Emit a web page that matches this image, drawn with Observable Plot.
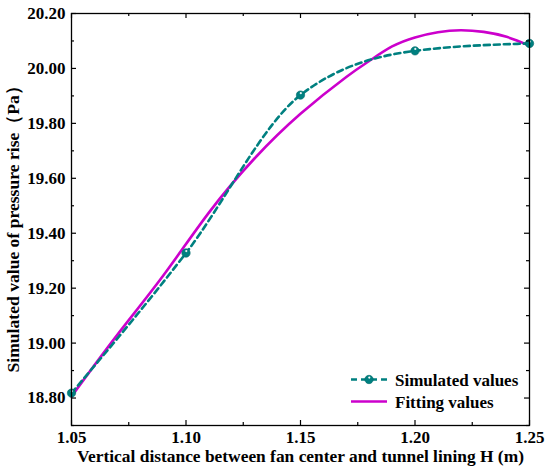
<!DOCTYPE html>
<html><head><meta charset="utf-8">
<script src="https://cdn.jsdelivr.net/npm/d3@7"></script>
<script src="https://cdn.jsdelivr.net/npm/@observablehq/plot@0.6"></script>
<style>
body{margin:0;background:#fff}
#chart{position:relative;width:550px;height:476px}
</style>
</head><body><div id="chart"></div>
<script>
// Simulated values (markers + dashed spline)
const simX = [1.05, 1.10, 1.15, 1.20, 1.25];
const simY = [18.818, 19.328, 19.903, 20.064, 20.091];
// Fitting curve
const fitX = [1.05, 1.07, 1.09, 1.11, 1.13, 1.15, 1.17, 1.18, 1.19, 1.20, 1.21, 1.22, 1.23, 1.24, 1.25];
const fitY = [18.806, 19.03, 19.245, 19.475, 19.673, 19.835, 19.969, 20.027, 20.080, 20.113, 20.132, 20.139, 20.133, 20.115, 20.083];
// Ticks
const xMajor = [1.05, 1.10, 1.15, 1.20, 1.25];
const xMinor = [1.075, 1.125, 1.175, 1.225];
const yMajor = [18.80, 19.00, 19.20, 19.40, 19.60, 19.80, 20.00, 20.20];
const yMinor = [18.70, 18.90, 19.10, 19.30, 19.50, 19.70, 19.90, 20.10];
const xTitle = "Vertical distance between fan center and tunnel lining H (m)";
const yTitle = "Simulated value of pressure rise（Pa）";
const legendLabels = ["Simulated values", "Fitting values"];

const sim = simX.map((x, i) => ({x, y: simY[i]}));
const fit = fitX.map((x, i) => ({x, y: fitY[i]}));

const W = 550, H = 476, mL = 71, mR = 21, mT = 13, mB = 51;
const pw = W - mL - mR, ph = H - mT - mB;
const TEAL = "#008080", MAG = "#cc00cc";
const FONT = "'Liberation Serif', 'Times New Roman', serif";

const plot = Plot.plot({
  width: W, height: H,
  marginLeft: mL, marginRight: mR, marginTop: mT, marginBottom: mB,
  style: {fontFamily: FONT, fontSize: "17px", fontWeight: "bold", color: "black", background: "white"},
  x: {domain: [1.05, 1.25]},
  y: {domain: [18.70, 20.20]},
  marks: [
    Plot.line(fit, {x: "x", y: "y", curve: "natural", stroke: MAG, strokeWidth: 2.6}),
    Plot.line(sim, {x: "x", y: "y", curve: "monotone-x", stroke: TEAL, strokeWidth: 2.6, strokeDasharray: "6,4"}),
    Plot.dot(sim, {x: "x", y: "y", r: 4.2, fill: TEAL, stroke: "#006a6a", strokeWidth: 0.6}),
    Plot.dot(sim, {x: "x", y: "y", r: 1.1, fill: "white", fillOpacity: 0.9, dx: 0.3, dy: -1.9}),
    // ticks (inward) bottom & top
    Plot.tickX(xMajor, {x: d => d, insetTop: ph - 5, stroke: "black", strokeWidth: 1.2}),
    Plot.tickX(xMinor, {x: d => d, insetTop: ph - 3, stroke: "black", strokeWidth: 1.2}),
    Plot.tickX(xMajor, {x: d => d, insetBottom: ph - 5, stroke: "black", strokeWidth: 1.2}),
    Plot.tickX(xMinor, {x: d => d, insetBottom: ph - 3, stroke: "black", strokeWidth: 1.2}),
    // ticks left & right
    Plot.tickY(yMajor, {y: d => d, insetRight: pw - 5, stroke: "black", strokeWidth: 1.2}),
    Plot.tickY(yMinor, {y: d => d, insetRight: pw - 3, stroke: "black", strokeWidth: 1.2}),
    Plot.tickY(yMajor, {y: d => d, insetLeft: pw - 5, stroke: "black", strokeWidth: 1.2}),
    Plot.tickY(yMinor, {y: d => d, insetLeft: pw - 3, stroke: "black", strokeWidth: 1.2}),
    Plot.axisX(xMajor, {tickSize: 0, tickPadding: 5, tickFormat: d3.format(".2f"), label: null, fontSize: 17}),
    Plot.axisY(yMajor, {tickSize: 0, tickPadding: 6, tickFormat: d3.format(".2f"), label: null, fontSize: 17}),
    Plot.frame({stroke: "black", strokeWidth: 1.3}),
    Plot.text([xTitle], {frameAnchor: "bottom", textAnchor: "middle", dy: 31, lineAnchor: "middle", fontSize: 17.4, fill: "black"}),
    Plot.text([yTitle], {frameAnchor: "left", textAnchor: "start", rotate: -90, dx: -58, dy: 153, lineAnchor: "middle", fontSize: 17.6, fill: "black"})
  ]
});
document.getElementById("chart").appendChild(plot);

// Legend
const svg = d3.select(plot);
const lg = svg.append("g").attr("font-family", FONT).attr("font-weight", "bold").attr("font-size", 17).attr("text-anchor", "start");
lg.append("line").attr("x1", 351).attr("x2", 387).attr("y1", 379.5).attr("y2", 379.5)
  .attr("stroke", TEAL).attr("stroke-width", 2.6).attr("stroke-dasharray", "6,4");
lg.append("circle").attr("cx", 369).attr("cy", 379.5).attr("r", 4.2).attr("fill", TEAL).attr("stroke", "#006a6a").attr("stroke-width", 0.6);
lg.append("circle").attr("cx", 369.3).attr("cy", 377.6).attr("r", 1.1).attr("fill", "white");
lg.append("line").attr("x1", 351).attr("x2", 387).attr("y1", 401.5).attr("y2", 401.5)
  .attr("stroke", MAG).attr("stroke-width", 2.6);
lg.append("text").attr("x", 395).attr("y", 385.5).attr("fill", "black").text(legendLabels[0]);
lg.append("text").attr("x", 395).attr("y", 407.5).attr("fill", "black").text(legendLabels[1]);
</script>
</body></html>
